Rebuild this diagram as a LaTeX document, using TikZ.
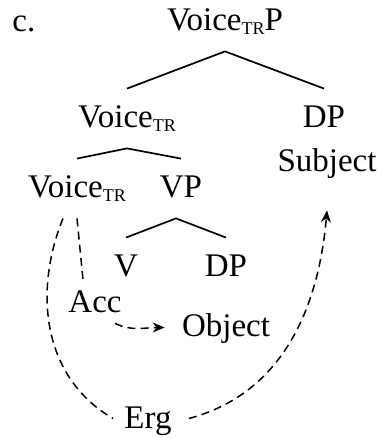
\documentclass[tikz,border=0pt]{standalone}
\usepackage{fontspec}
\setmainfont{Liberation Serif}
\usetikzlibrary{arrows.meta}
\newcommand{\tr}{\raisebox{-0.1em}{\fontsize{9}{9}\selectfont TR}}

\begin{document}
\begin{tikzpicture}[x=0.5pt, y=0.5pt,
    every node/.style={font=\fontsize{16.5}{19}\selectfont, anchor=base,
        inner xsep=0pt, inner ysep=6.5pt, text height=13pt, text depth=3.5pt},
    br/.style={line width=0.85pt},
    mv/.style={dash pattern=on 4pt off 2.6pt, line width=0.75pt},
    >={Stealth[length=6pt, width=5pt]}
  ]
    \useasboundingbox (0,0) rectangle (381,438);
    \node[anchor=base west] (lab) at (12,406) {c.};
    \node (root) at (225,407) {Voice\tr P};
    \node (vbar) at (127,310) {Voice\tr};
    \node (dp1)  at (324,310) {DP};
    \node (subj) at (327,266) {Subject};
    \node (voice) at (77,240) {Voice\tr};
    \node (vp)   at (181,240) {VP};
    \node (v)    at (126,161) {V};
    \node (dp2)  at (226,161) {DP};
    \node (acc)  at (95,125) {Acc};
    \node (obj)  at (226,101) {Object};
    \node (erg)  at (148,10) {Erg};
    \draw[br] (vbar.north) -- (root.south) -- (dp1.north);
    \draw[br] (voice.north) -- (vbar.south) -- (vp.north);
    \draw[br] (v.north) -- ([xshift=-2.5pt]vp.south) -- (dp2.north);
    \draw[mv] (voice.south) -- ([xshift=-6pt,yshift=-3pt]acc.north);
    \draw[mv,->] ([xshift=-3.5pt,yshift=5pt]acc.south east) to[out=-25,in=180] ([xshift=-8.5pt]obj.west);
    \draw[mv] ([xshift=-7pt]voice.south) to[out=-112,in=150] ([xshift=-5.5pt]erg.west);
    \draw[mv,->] ([xshift=8.5pt]erg.east) to[out=15,in=-95] ([yshift=-9pt]subj.south);
\end{tikzpicture}
\end{document}
